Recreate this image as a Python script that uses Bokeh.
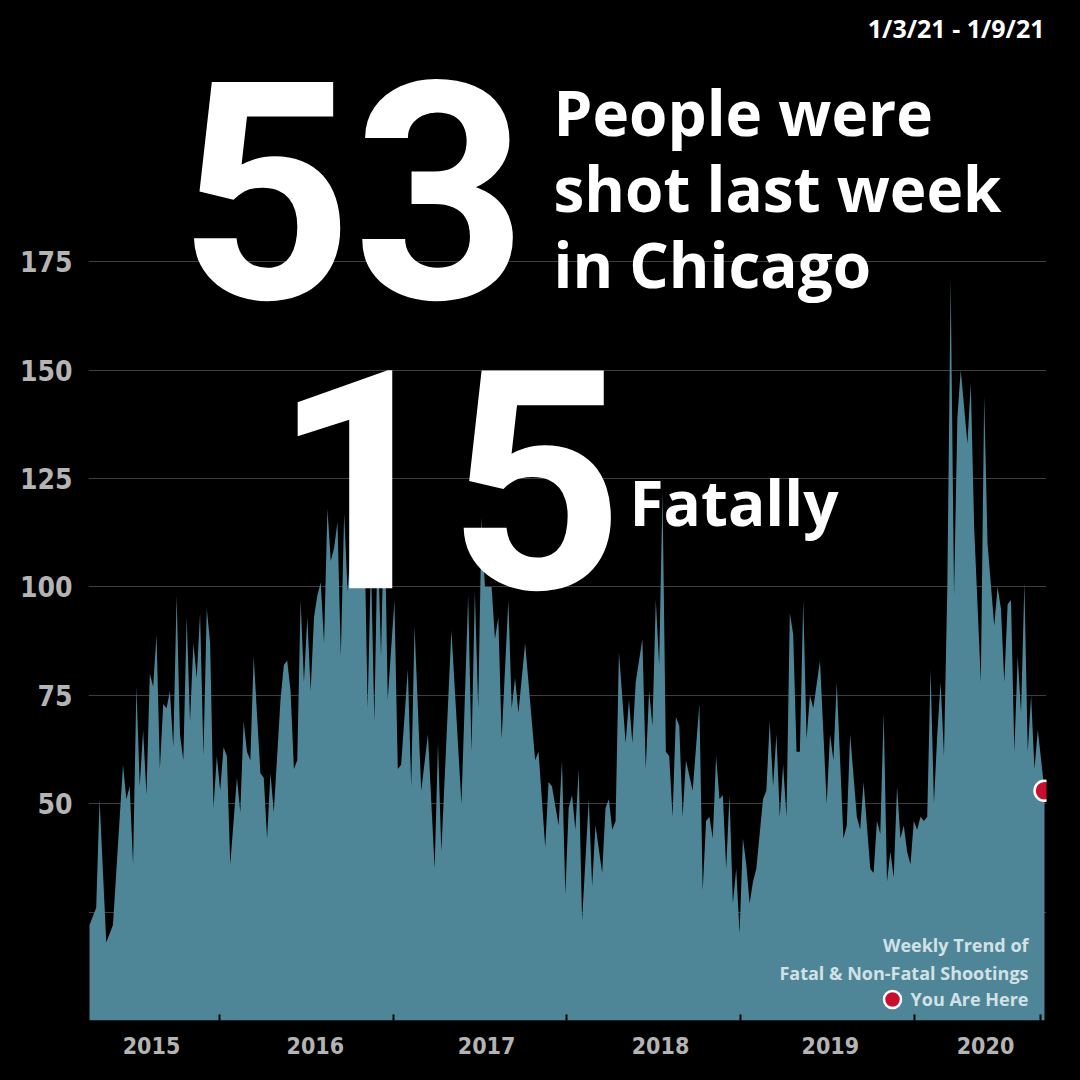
from bokeh.plotting import figure
from bokeh.models import Range1d, FixedTicker, Label
from bokeh.embed import file_html
from bokeh.resources import INLINE

# ---- data (weekly shootings) ----
week = [
    0, 2, 3, 5, 7, 10, 11, 12, 13, 14,
    15, 16, 17, 18, 19, 20, 21, 22, 23, 24,
    25, 26, 27, 28, 29, 30, 31, 32, 33, 34,
    35, 36, 37, 38, 39, 40, 41, 42, 44, 45,
    46, 47, 48, 49, 51, 52, 53, 54, 55, 57,
    58, 59, 60, 61, 62, 63, 64, 65, 66, 67,
    68, 69, 70, 71, 72, 73, 74, 75, 76, 77,
    78, 79, 80, 81, 82, 83, 84, 85, 86, 87,
    88, 89, 91, 92, 93, 95, 96, 97, 99, 101,
    103, 104, 105, 108, 111, 113, 114, 115, 116, 117,
    118, 120, 121, 122, 123, 125, 126, 127, 128, 130,
    133, 134, 136, 137, 138, 140, 141, 142, 143, 144,
    145, 146, 147, 149, 150, 151, 153, 154, 155, 156,
    157, 158, 160, 161, 162, 163, 165, 166, 167, 168,
    169, 170, 171, 172, 173, 174, 175, 176, 177, 178,
    180, 182, 183, 184, 185, 186, 187, 188, 189, 190,
    191, 192, 193, 194, 195, 196, 197, 198, 199, 201,
    202, 203, 204, 205, 206, 207, 208, 209, 210, 211,
    212, 213, 214, 215, 216, 218, 220, 221, 222, 223,
    225, 226, 227, 229, 230, 231, 233, 234, 235, 236,
    237, 238, 239, 240, 241, 242, 243, 244, 245, 246,
    247, 248, 249, 250, 251, 252, 253, 254, 255, 256,
    257, 258, 259, 260, 262, 263, 264, 266, 267, 268,
    270, 271, 272, 273, 274, 275, 276, 277, 278, 279,
    280, 281, 282, 283, 285,
]
shot = [
    22, 26, 51, 18, 22, 59, 51, 54, 36, 77,
    54, 67, 52, 80, 77, 89, 58, 73, 72, 76,
    63, 98, 66, 60, 93, 69, 87, 79, 94, 61,
    95, 87, 49, 61, 53, 63, 61, 36, 56, 48,
    69, 62, 60, 84, 57, 56, 42, 57, 48, 74,
    82, 83, 76, 58, 60, 97, 78, 93, 76, 93,
    98, 101, 87, 118, 106, 109, 115, 84, 117, 99,
    109, 110, 104, 118, 115, 72, 106, 69, 112, 84,
    120, 74, 97, 58, 59, 81, 54, 91, 53, 66,
    35, 64, 39, 90, 50, 98, 62, 99, 72, 116,
    100, 100, 88, 93, 65, 97, 72, 79, 71, 87,
    60, 62, 40, 55, 54, 45, 60, 29, 49, 52,
    44, 58, 23, 51, 31, 45, 34, 49, 51, 44,
    46, 85, 64, 74, 64, 78, 88, 58, 76, 68,
    97, 82, 122, 62, 61, 47, 70, 68, 47, 60,
    53, 73, 30, 46, 47, 42, 61, 51, 52, 35,
    52, 27, 35, 20, 42, 36, 27, 32, 35, 51,
    53, 69, 54, 66, 47, 59, 47, 94, 89, 62,
    62, 97, 65, 75, 72, 83, 50, 66, 60, 78,
    42, 45, 66, 47, 44, 55, 35, 34, 46, 43,
    71, 32, 39, 33, 54, 42, 45, 39, 36, 46,
    44, 47, 46, 47, 81, 50, 66, 78, 61, 100,
    171, 98, 139, 150, 133, 147, 114, 78, 144, 110,
    91, 100, 95, 78, 96, 97, 62, 84, 71, 101,
    62, 75, 58, 67, 53,
]
assert len(week) == len(shot)

total_shot = "53"
total_fatal = "15"
date_range = "1/3/21 - 1/9/21"
y_ticks = [25, 50, 75, 100, 125, 150, 175]
year_labels = ["2015", "2016", "2017", "2018", "2019", "2020"]
year_label_pos = [18.5, 67.4, 118.5, 170.4, 221.1, 267.4]
year_bounds = [38.8, 90.6, 142.3, 194.2, 246.2, 283.8]

# ---- layout helpers (page pixels -> data units for annotations) ----
S = 955 / 285.0
YS = 4.336


def dx(px):
    return (px - 89) / S


def dy(py):
    return (1020 - py) / YS


AREA = "#4e8697"
RED = "#c8102e"
LEG = "#d2e1e6"
FONT = "Open Sans"
BIGFONT = "Roboto"
AXFONT = "'DejaVu Sans Condensed', 'Roboto', sans-serif"

p = figure(width=1080, height=1080, output_backend="svg", toolbar_location=None,
           x_range=Range1d(dx(88), dx(1046)), y_range=Range1d(0, dy(0)),
           min_border_left=88, min_border_right=34, min_border_top=0,
           min_border_bottom=60,
           background_fill_color="black", border_fill_color="black",
           outline_line_color=None)

# axes
xa = p.xaxis[0]
xa.ticker = FixedTicker(ticks=year_label_pos, minor_ticks=year_bounds)
xa.major_label_overrides = dict(zip(year_label_pos, year_labels))
xa.major_tick_line_color = None
xa.major_tick_in = 0
xa.major_tick_out = 0
xa.minor_tick_line_color = "black"
xa.minor_tick_line_width = 2
xa.minor_tick_in = 6
xa.minor_tick_out = 0
xa.axis_line_color = None
xa.major_label_standoff = 16
xa.major_label_text_font = AXFONT
xa.major_label_text_font_style = "bold"
xa.major_label_text_font_size = "23px"
xa.major_label_text_color = "#b4b4b4"

ya = p.yaxis[0]
ya.ticker = FixedTicker(ticks=y_ticks)
ya.major_label_overrides = {25: ""}
ya.major_tick_line_color = None
ya.major_tick_in = 0
ya.major_tick_out = 0
ya.minor_tick_line_color = None
ya.axis_line_color = None
ya.major_label_standoff = 16
ya.major_label_text_font = AXFONT
ya.major_label_text_font_style = "bold"
ya.major_label_text_font_size = "28px"
ya.major_label_text_color = "#b4b4b4"

p.xgrid.visible = False
p.ygrid.ticker = FixedTicker(ticks=y_ticks)
p.ygrid.grid_line_color = "#3d3d3d"
p.ygrid.grid_line_width = 1

# area
p.varea(x=week, y1=0, y2=shot, fill_color=AREA)

# "you are here" point
p.scatter(x=[week[-1]], y=[shot[-1]], size=20, fill_color=RED,
          line_color="white", line_width=2.5)


# texts: (left/right x in page px, baseline in page px, font px)
def lab(x, base, text, size, shift, color="white", align="left", font=FONT):
    p.add_layout(Label(x=dx(x), y=dy(base - shift * size), text=text,
                       text_font=font, text_font_style="bold",
                       text_font_size=f"{size}px", text_color=color,
                       text_align=align, text_baseline="alphabetic"))


lab(178, 300, total_shot, 304, 0.367, font=BIGFONT)
lab(553, 138, "People were", 62, 0.42)
lab(553, 214, "shot last week", 62, 0.42)
lab(553, 290, "in Chicago", 62, 0.42)
lab(272, 590, total_fatal, 306, 0.367, font=BIGFONT)
lab(629, 528, "Fatally", 62, 0.42)
lab(1044, 38, date_range, 25, 0.43, align="right")

# legend
lab(1028, 952, "Weekly Trend of", 18, 0.43, color=LEG, align="right")
lab(1028, 980, "Fatal & Non-Fatal Shootings", 18, 0.43, color=LEG, align="right")
lab(1028, 1006, "You Are Here", 18, 0.43, color=LEG, align="right")
p.scatter(x=[dx(892)], y=[dy(999)], size=17, fill_color=RED,
          line_color="white", line_width=2.5)

html = file_html(p, INLINE)
html = html.replace("<head>", "<head><style>html,body{background:#000;}</style>", 1)
open("out.html", "w").write(html)
